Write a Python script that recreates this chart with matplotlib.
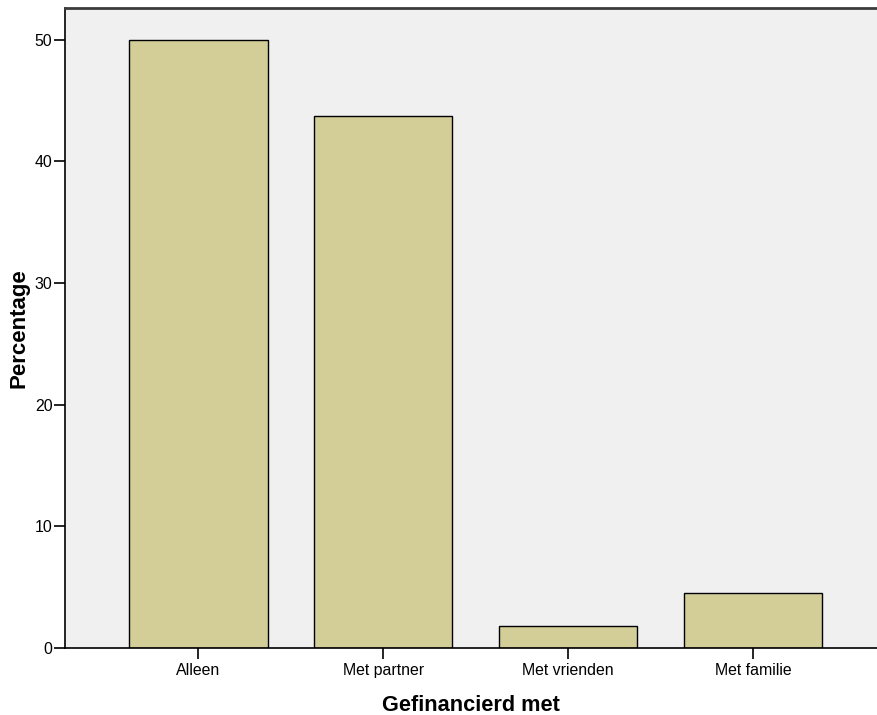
import matplotlib
matplotlib.use("Agg")
import matplotlib.pyplot as plt

categories = ["Alleen", "Met partner", "Met vrienden", "Met familie"]
percentages = [50.0, 43.7, 1.8, 4.5]

plt.rcParams['font.family'] = ['Liberation Sans', 'DejaVu Sans']

fig = plt.figure(figsize=(8.77, 7.15), dpi=100)
ax = fig.add_axes([0.0741, 0.0937, 0.9259, 0.8951])
ax.set_facecolor("#f0f0f0")

x = list(range(len(categories)))
ax.bar(x, percentages, width=0.75, color="#d3ce98", edgecolor="black", linewidth=1.0, zorder=2)

ax.set_xlim(-0.72, 3.67)
ax.set_ylim(0, 52.6)
ax.set_yticks([0, 10, 20, 30, 40, 50])
ax.set_xticks(x)
ax.set_xticklabels(categories)
ax.tick_params(axis="both", direction="out", length=8, width=1.2, labelsize=11.4, colors="black")
ax.tick_params(axis="y", pad=1)
ax.tick_params(axis="x", pad=3)

for side in ["left", "bottom"]:
    ax.spines[side].set_linewidth(1.2)
ax.spines["top"].set_color("#3c3c3c")
ax.spines["top"].set_linewidth(2)
ax.spines["right"].set_visible(False)

ax.set_xlabel("Gefinancierd met", fontsize=15.7, fontweight="bold", labelpad=12)
ax.set_ylabel("Percentage", fontsize=16, fontweight="bold", labelpad=4)

plt.savefig("out.png", dpi=100)
